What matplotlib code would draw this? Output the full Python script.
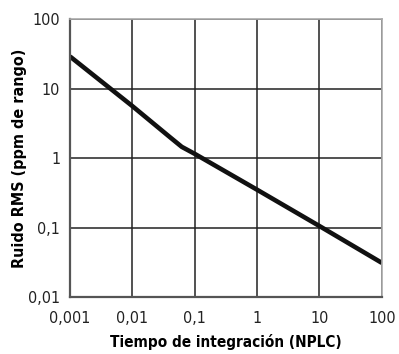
import numpy as np
import matplotlib.pyplot as plt
from matplotlib.ticker import FixedLocator, NullLocator

# Ruido RMS vs tiempo de integracion
nplc = [0.001, 0.01, 0.04, 0.062, 0.1, 1, 10, 100]
noise_ppm = [29.0, 5.6, 2.0, 1.45, 1.15, 0.35, 0.105, 0.031]

x_ticks = [0.001, 0.01, 0.1, 1, 10, 100]
x_tick_labels = ["0,001", "0,01", "0,1", "1", "10", "100"]
y_ticks = [0.01, 0.1, 1, 10, 100]
y_tick_labels = ["0,01", "0,1", "1", "10", "100"]

plt.rcParams['font.family'] = ['DejaVu Sans']
plt.rcParams['font.stretch'] = 'condensed'

fig = plt.figure(figsize=(3.99, 3.54), dpi=100)
ax = fig.add_axes([0.1754, 0.161, 0.7816, 0.785])

ax.plot(nplc, noise_ppm, color='#111111', linewidth=3.3, solid_capstyle='butt')

ax.set_xscale('log')
ax.set_yscale('log')
ax.set_xlim(0.001, 100)
ax.set_ylim(0.01, 100)

ax.xaxis.set_major_locator(FixedLocator(x_ticks))
ax.xaxis.set_minor_locator(NullLocator())
ax.yaxis.set_major_locator(FixedLocator(y_ticks))
ax.yaxis.set_minor_locator(NullLocator())
ax.set_xticklabels(x_tick_labels, fontsize=11.5, color='#222222')
ax.set_yticklabels(y_tick_labels, fontsize=11.5, color='#222222')
ax.tick_params(axis='x', length=0, pad=10)
ax.tick_params(axis='y', length=0, pad=7)

ax.grid(True, color='#222222', linewidth=1.1)
for side in ['left', 'bottom']:
    ax.spines[side].set_color('#555555')
    ax.spines[side].set_linewidth(1.6)
for side in ['top', 'right']:
    ax.spines[side].set_color('#aaaaaa')
    ax.spines[side].set_linewidth(1.2)

ax.set_xlabel("Tiempo de integración (NPLC)", fontsize=11, fontweight='bold', labelpad=6)
ax.set_ylabel("Ruido RMS (ppm de rango)", fontsize=11.5, fontweight='bold', labelpad=1)

fig.savefig("out.png", dpi=100)
